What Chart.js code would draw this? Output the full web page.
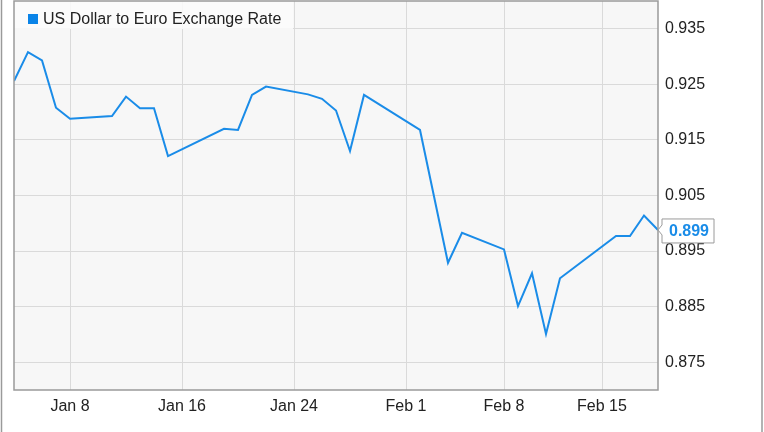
<!DOCTYPE html>
<html>
<head>
<meta charset="utf-8">
<script src="https://cdn.jsdelivr.net/npm/chart.js@4.4.1/dist/chart.umd.min.js"></script>
<style>
  html, body { margin: 0; padding: 0; background: #fff; }
  #wrap { width: 764px; height: 432px; }
</style>
</head>
<body>
<div id="wrap"><canvas id="rateChart" width="764" height="432"></canvas></div>
<script>
// day of year (Jan 1 = 1) for each trading day, Jan 4 .. Feb 19
const days = [4, 5, 6, 7, 8, 11, 12, 13, 14, 15, 19, 20, 21, 22, 25, 26, 27, 28, 29,
              33, 35, 36, 39, 40, 41, 42, 43, 47, 48, 49, 50];
const rates = [0.9256, 0.9308, 0.9293, 0.9208, 0.9188, 0.9193, 0.9228, 0.9207, 0.9207, 0.9121,
               0.9170, 0.9168, 0.9231, 0.9246, 0.9232, 0.9224, 0.9203, 0.9130, 0.9231,
               0.9168, 0.8929, 0.8983, 0.8953, 0.8851, 0.8910, 0.8801, 0.8901,
               0.8977, 0.8977, 0.9014, 0.8988];
const xTickDays = [8, 16, 24, 32, 39, 46];
const xTickLabels = ['Jan 8', 'Jan 16', 'Jan 24', 'Feb 1', 'Feb 8', 'Feb 15'];
const yTicks = [0.875, 0.885, 0.895, 0.905, 0.915, 0.925, 0.935];
const seriesLabel = 'US Dollar to Euro Exchange Rate';
const lastLabel = '0.899';

const lineColor = '#1a8ce8';
const fontFamily = "'Liberation Sans', Arial, sans-serif";

// plot background, frame, legend and last value tag
const decorPlugin = {
    id: 'decor',
    beforeDraw(chart) {
        const { ctx, chartArea: a } = chart;
        ctx.save();
        ctx.fillStyle = '#f7f7f7';
        ctx.fillRect(a.left, a.top, a.right - a.left, a.bottom - a.top);
        ctx.restore();
    },
    beforeDatasetsDraw(chart) {
        const { ctx, chartArea: a } = chart;
        ctx.save();
        // legend box
        ctx.fillStyle = 'rgba(252, 252, 252, 0.85)';
        ctx.fillRect(a.left, a.top, 279, 28);
        ctx.fillStyle = '#0a84e8';
        ctx.fillRect(28, 14, 10, 10);
        ctx.fillStyle = '#222';
        ctx.font = '16px ' + fontFamily;
        ctx.textBaseline = 'middle';
        ctx.fillText(seriesLabel, 43, 19.5);
        ctx.restore();
    },
    afterDraw(chart) {
        const { ctx, chartArea: a } = chart;
        ctx.save();
        // plot frame
        ctx.strokeStyle = '#9a9a9a';
        ctx.lineWidth = 1.5;
        ctx.strokeRect(a.left, a.top, a.right - a.left, a.bottom - a.top);
        // outer frame lines
        ctx.beginPath();
        ctx.moveTo(1.5, 0); ctx.lineTo(1.5, 432);
        ctx.moveTo(762, 0); ctx.lineTo(762, 432);
        ctx.stroke();

        // last value tag
        const meta = chart.getDatasetMeta(0);
        const pt = meta.data[meta.data.length - 1];
        const bx = a.right + 4, by = pt.y - 11, bw = 52, bh = 24;
        ctx.beginPath();
        ctx.moveTo(a.right, pt.y);
        ctx.lineTo(bx, pt.y - 5);
        ctx.lineTo(bx, by);
        ctx.lineTo(bx + bw, by);
        ctx.lineTo(bx + bw, by + bh);
        ctx.lineTo(bx, by + bh);
        ctx.lineTo(bx, pt.y + 5);
        ctx.closePath();
        ctx.fillStyle = '#fff';
        ctx.fill();
        ctx.strokeStyle = '#9a9a9a';
        ctx.lineWidth = 1;
        ctx.stroke();
        ctx.fillStyle = lineColor;
        ctx.font = 'bold 16px ' + fontFamily;
        ctx.textBaseline = 'middle';
        ctx.textAlign = 'center';
        ctx.fillText(lastLabel, bx + bw / 2 + 1, by + bh / 2 + 1);
        ctx.restore();
    }
};

const chart = new Chart(document.getElementById('rateChart').getContext('2d'), {
    type: 'line',
    data: {
        datasets: [{
            label: seriesLabel,
            data: days.map((d, i) => ({ x: d, y: rates[i] })),
            borderColor: lineColor,
            borderWidth: 2,
            pointRadius: 0,
            tension: 0,
            fill: false
        }]
    },
    options: {
        responsive: false,
        animation: false,
        devicePixelRatio: 1,
        layout: { padding: { left: 14, top: 1, right: 0, bottom: 0 } },
        plugins: {
            legend: { display: false },
            tooltip: { enabled: false }
        },
        scales: {
            x: {
                type: 'linear',
                min: 4,
                max: 50,
                afterBuildTicks: (scale) => {
                    scale.ticks = xTickDays.map(v => ({ value: v }));
                },
                afterFit: (scale) => {
                    scale.height = 42;
                    scale.paddingLeft = 0;
                    scale.paddingRight = 0;
                },
                grid: { color: '#dadada', lineWidth: 1, drawTicks: false },
                border: { display: false },
                ticks: {
                    padding: 7,
                    color: '#222',
                    font: { size: 16, family: fontFamily },
                    maxRotation: 0,
                    callback: (value) => xTickLabels[xTickDays.indexOf(value)]
                }
            },
            y: {
                position: 'right',
                min: 0.870,
                max: 0.940,
                afterBuildTicks: (scale) => {
                    scale.ticks = yTicks.map(v => ({ value: v }));
                },
                afterFit: (scale) => {
                    scale.width = 106;
                    scale.paddingTop = 0;
                    scale.paddingBottom = 0;
                },
                grid: { color: '#dadada', lineWidth: 1, drawTicks: false },
                border: { display: false },
                ticks: {
                    padding: 7,
                    color: '#222',
                    font: { size: 16, family: fontFamily },
                    callback: (value) => value.toFixed(3)
                }
            }
        }
    },
    plugins: [decorPlugin]
});
</script>
</body>
</html>
